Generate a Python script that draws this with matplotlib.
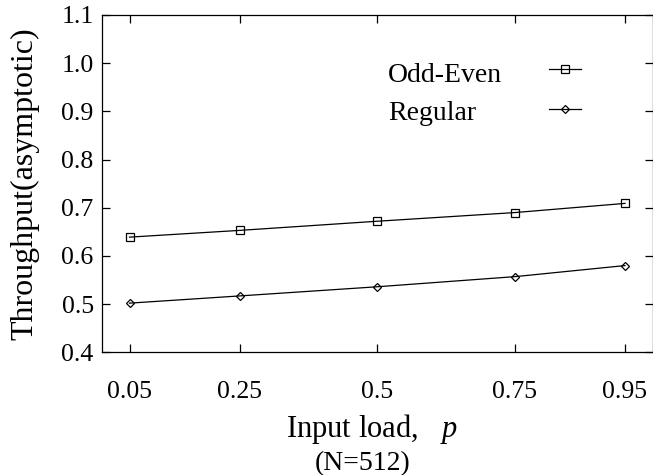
import matplotlib
matplotlib.use("Agg")
import matplotlib.pyplot as plt

# values
load = [0.05, 0.25, 0.5, 0.75, 0.95]
load_labels = ["0.05", "0.25", "0.5", "0.75", "0.95"]
series_names = ["Odd-Even", "Regular"]
odd_even = [0.639, 0.653, 0.672, 0.690, 0.709]
regular = [0.502, 0.517, 0.536, 0.557, 0.580]
y_ticks = [0.4, 0.5, 0.6, 0.7, 0.8, 0.9, 1.0, 1.1]

plt.rcParams["font.family"] = "Liberation Serif"
plt.rcParams["mathtext.fontset"] = "custom"
plt.rcParams["mathtext.it"] = "Liberation Serif:italic"
plt.rcParams["mathtext.rm"] = "Liberation Serif"

fig = plt.figure(figsize=(6.53, 4.75), dpi=100)
ax = fig.add_axes([102 / 653, 1 - 352.3 / 475, 550.5 / 653, 337.3 / 475])

l1, = ax.plot(load, odd_even, color="black", lw=0.9, marker="s", ms=5.5,
              mfc="none", mec="black", mew=0.9)
l2, = ax.plot(load, regular, color="black", lw=0.9, marker="D", ms=4,
              mfc="none", mec="black", mew=0.9)

ax.set_xlim(0, 1)
ax.set_ylim(0.4, 1.1)
ax.set_xticks(load)
ax.set_xticklabels(load_labels)
ax.set_yticks(y_ticks)
ax.set_yticklabels([f"{v:.1f}" for v in y_ticks])

ax.tick_params(direction="in", length=6, width=0.9, top=True, right=True,
               labelsize=18.5)
ax.tick_params(axis="x", pad=21)
ax.tick_params(axis="y", pad=6)
for s in ax.spines.values():
    s.set_linewidth(0.9)

ax.set_ylabel("Throughput(asymptotic)", fontsize=23, labelpad=16)
ax.set_xlabel("Input load,   $p$", fontsize=22)
ax.xaxis.set_label_coords(0.49, 1 - (429 - 15) / 337.3)
ax.xaxis.label.set_va("center")
fig.text(363 / 653, 1 - 464 / 475, "(N=512)", fontsize=20,
         ha="center", va="center")

# legend: text on the left, sample line on the right (gnuplot style)
leg = ax.legend([l1, l2], ["", ""], loc="center left",
                bbox_to_anchor=(549 / 653, 1 - 92 / 475),
                bbox_transform=fig.transFigure, frameon=False,
                fontsize=20, handlelength=1.15, handletextpad=0,
                labelspacing=0.52, borderpad=0, borderaxespad=0)
for name, yc in zip(series_names, [76, 114]):
    fig.text(388 / 653, 1 - yc / 475, name, fontsize=20, va="center")

fig.savefig("out.png", dpi=100)
